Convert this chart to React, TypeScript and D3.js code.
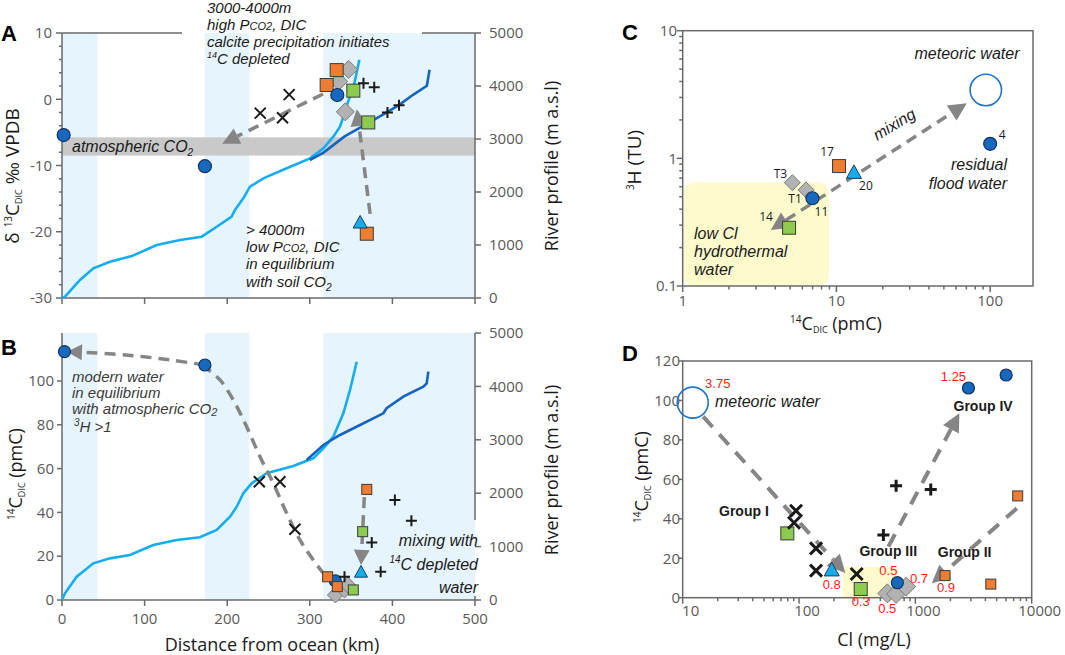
import React from 'react';
import * as d3 from 'd3';

type P = [number, number];
type Kind = 'circle' | 'orange' | 'green' | 'diamond' | 'triangle' | 'cross' | 'plus';

// river long profiles: distance from ocean (km), elevation (m a.s.l.)
const profileLightA: P[] = [[0, 0], [3.6, 25], [21.8, 340], [37.9, 560], [58.1, 685], [84.4, 790], [114.6, 1000], [142.9, 1095], [169.1, 1157], [187.3, 1345], [205.4, 1535], [209.4, 1660], [219.5, 1880], [227.6, 2100], [243.7, 2258], [272, 2447], [300.2, 2635], [316.4, 2825], [328.5, 3043], [336.6, 3232], [340.6, 3420], [345.8, 3676], [354, 4054], [360, 4495]];
const profileDarkA: P[] = [[300, 2604], [316.7, 2743], [341.7, 3045], [366.7, 3266], [391.7, 3487], [408.3, 3644], [425, 3834], [441.7, 4004], [445, 4307]];
const profileLightB: P[] = [[0, 0], [3.6, 125], [17.8, 436], [37.9, 687], [58.1, 780], [82.3, 843], [110.5, 1030], [138.8, 1124], [167, 1174], [187.3, 1311], [203.4, 1560], [211.5, 1747], [219.5, 1998], [229.6, 2185], [247.8, 2373], [280, 2509], [304.2, 2653], [316.4, 2841], [328.5, 3058], [340.6, 3496], [348.7, 3933], [356.8, 4463]];
const profileDarkB: P[] = [[296.2, 2622], [316.4, 2903], [336.6, 3090], [360.8, 3277], [389, 3496], [393, 3590], [413.2, 3808], [437.4, 3995], [441.5, 4058], [443.5, 4276]];

// shaded reaches (km) and atmospheric CO2 band (permil)
const reaches: P[] = [[0, 42.8], [173, 226.4], [316.4, 500]];
const atmBand: P = [-8.5, -5.75];

// panel A: d13C DIC vs distance
const aDiamond: P[] = [[347, 4.5], [335, 2.7], [343, -1.9]];
const aOrange: P[] = [[332.5, 4.4], [320.4, 2.15], [369, -20.3]];
const aCircle: P[] = [[2, -5.4], [173, -10.1], [333.3, 0.64]];
const aGreen: P[] = [[352.7, 1.3], [370.8, -3.5]];
const aTriangle: P[] = [[361, -18.7]];
const aCross: P[] = [[275, 0.7], [240, -2.1], [267, -2.8]];
const aPlus: P[] = [[365, 2.4], [378, 1.8], [394, -2.0], [408, -0.9]];
const aArrow1: P[] = [[316, 0.8], [194, -6.7]];
const aArrow2: P[] = [[373, -17.3], [357, -1.5]];

// panel B: 14C DIC vs distance
const bDiamond: P[] = [[331, 2.3], [342, 4.6], [346, 6.8]];
const bCircle: P[] = [[3, 113.4], [173, 107.3], [331, 8.7]];
const bOrange: P[] = [[369, 50.5], [321.6, 10.6], [333.3, 6.1]];
const bGreen: P[] = [[364, 31.2], [352.7, 4.6]];
const bTriangle: P[] = [[362, 12.5]];
const bCross: P[] = [[238.9, 54], [263.9, 54], [282, 32.3]];
const bPlus: P[] = [[403, 45.7], [423, 36.2], [375, 26.2], [385.8, 12.9], [342, 10.6]];
const bArrow1: P[] = [[173, 107.3], [131, 109.6], [80, 111.8], [30, 113], [6, 113.4]];
const bArrow2: P[] = [[169.5, 107.3], [191.3, 100.5], [207.4, 91.3], [223.6, 79.1], [239.7, 65.4], [255.8, 53.3], [272, 39.6], [288.1, 27.4], [304.2, 18.3], [316.4, 12.2]];
const bArrow3: P[] = [[366, 47], [362, 16]];

// panel C: 3H vs 14C DIC
const cMeteoric: P = [93.7, 3.43];
const cDiamond: P[] = [[5.17, 0.645], [6.35, 0.566]];
const cCircle: P[] = [[100, 1.3], [6.98, 0.487]];
const cOrange: P[] = [[10.4, 0.87]];
const cTriangle: P[] = [[13.0, 0.766]];
const cGreen: P[] = [[4.92, 0.286]];
const cLabels: { t: string; p: P; dx: number; dy: number }[] = [
  { t: 'T3', p: [5.17, 0.645], dx: -12, dy: -9 },
  { t: 'T1', p: [6.35, 0.566], dx: -11, dy: 9 },
  { t: '11', p: [6.98, 0.487], dx: 9, dy: 14 },
  { t: '14', p: [4.92, 0.286], dx: -23, dy: -11 },
  { t: '17', p: [10.4, 0.87], dx: -12, dy: -14 },
  { t: '20', p: [13.0, 0.766], dx: 12, dy: 13 },
  { t: '4', p: [100, 1.3], dx: 12, dy: -9 },
];
const cLowCl: [P, P] = [[1, 0.1], [8.8, 0.65]];
const cArrow: P[] = [[3.74, 0.275], [70.5, 2.7]];

// panel D: 14C DIC vs Cl
const dMeteoric: P = [12.2, 98.9];
const dDiamond: P[] = [[574, 2.2], [682, 1.9], [832, 5.6]];
const dCircle: P[] = [[2860, 106.3], [6030, 112.9], [700, 7.6]];
const dOrange: P[] = [[7580, 51.6], [1800, 11.2], [4450, 6.9]];
const dGreen: P[] = [[79.3, 32.6], [339, 4.4]];
const dTriangle: P[] = [[191, 13.7]];
const dCross: P[] = [[94.2, 44.1], [90.6, 38], [140, 25], [140, 13.7], [313, 12]];
const dPlus: P[] = [[683, 56.8], [1356, 54.9], [531, 31.8]];
const dTritium: { t: string; p: P; dx: number; dy: number }[] = [
  { t: '3.75', p: [12.2, 98.9], dx: 25, dy: -19 },
  { t: '1.25', p: [2860, 106.3], dx: -15, dy: -12 },
  { t: '0.5', p: [700, 7.6], dx: -9, dy: -12 },
  { t: '0.7', p: [832, 5.6], dx: 13, dy: -8 },
  { t: '0.8', p: [191, 13.7], dx: 0, dy: 14 },
  { t: '0.3', p: [339, 4.4], dx: 0, dy: 12 },
  { t: '0.5', p: [574, 2.2], dx: 0, dy: 15 },
  { t: '0.9', p: [1800, 11.2], dx: 1, dy: 12 },
];
const dGroups: { t: string; p: P }[] = [
  { t: 'Group I', p: [33.6, 44] },
  { t: 'Group III', p: [585, 23.8] },
  { t: 'Group II', p: [2650, 23] },
  { t: 'Group IV', p: [3820, 97] },
];
const dLowCl: [P, P] = [[239, 0], [709, 15.6]];
const dArrow1: P[] = [[15, 91.8], [250, 12.5]];
const dArrow2: P[] = [[586, 25.9], [2390, 93.5]];
const dArrow3: P[] = [[7450, 45.3], [1384, 7.3]];

// tick labels
const distTicks = [0, 100, 200, 300, 400, 500];
const elevTicks = [0, 1000, 2000, 3000, 4000, 5000];
const d13Ticks = [-30, -20, -10, 0, 10];
const c14Ticks = [0, 20, 40, 60, 80, 100];
const cXTicks = [1, 10, 100];
const cYTicks = [0.1, 1, 10];
const dXTicks = [10, 100, 1000, 10000];
const dYTicks = [0, 20, 40, 60, 80, 100, 120];

const SANS = "'Open Sans', 'Noto Sans', sans-serif";
const ARIAL = "'Liberation Sans', Arial, sans-serif";
const GREY = '#595959';
const AXIS = '#6a6a6a';
const BAND = '#e6f4fd';
const DASH = '#858585';
const YELLOW = '#fdfbcc';

const xA = d3.scaleLinear().domain([0, 500]).range([62, 475]);
const yA = d3.scaleLinear().domain([-30, 10]).range([298, 33]);
const zA = d3.scaleLinear().domain([0, 5000]).range([298, 33]);
const yB = d3.scaleLinear().domain([0, 120]).range([600, 337.2]);
const zB = d3.scaleLinear().domain([0, 5000]).range([600, 333]);
const xC = d3.scaleLog().domain([1, 190]).range([682.7, 1033]);
const yC = d3.scaleLog().domain([0.1, 10]).range([286, 30.7]);
const xD = d3.scaleLog().domain([10, 10000]).range([682.7, 1031.7]);
const yD = d3.scaleLinear().domain([0, 120]).range([597.7, 361]);

const logMinor = (lo: number, hi: number) => {
  const out: number[] = [];
  for (let d = lo; d < hi; d *= 10) for (let m = 2; m <= 9; m++) if (d * m <= hi) out.push(d * m);
  return out;
};

function Mark({ k, x, y, s }: { k: Kind; x: number; y: number; s: number }) {
  const h = s / 2;
  switch (k) {
    case 'circle':
      return <circle cx={x} cy={y} r={h} fill="#1769c0" stroke="#16325c" strokeWidth={1.2} />;
    case 'orange':
      return <rect x={x - h} y={y - h} width={s} height={s} fill="#ee7d31" stroke="#3b3b3b" strokeWidth={1} />;
    case 'green':
      return <rect x={x - h} y={y - h} width={s} height={s} fill="#8dcb4f" stroke="#3b3b3b" strokeWidth={1} />;
    case 'diamond':
      return <path d={`M${x},${y - h}L${x + h},${y}L${x},${y + h}L${x - h},${y}Z`} fill="#b2b2b2" stroke="#7b7b7b" strokeWidth={1} />;
    case 'triangle':
      return <path d={`M${x},${y - s * 0.55}L${x + h},${y + s * 0.35}L${x - h},${y + s * 0.35}Z`} fill="#16aeea" stroke="#1d3a63" strokeWidth={1} />;
    case 'cross':
      return <path d={`M${x - h},${y - h}L${x + h},${y + h}M${x - h},${y + h}L${x + h},${y - h}`} stroke="#1a1a1a" strokeWidth={s > 11 ? 3 : 2} />;
    case 'plus':
      return <path d={`M${x - h},${y}L${x + h},${y}M${x},${y - h}L${x},${y + h}`} stroke="#1a1a1a" strokeWidth={s > 11 ? 3 : 2} />;
  }
  return null;
}

function Series({ pts, k, s, sx, sy }: { pts: P[]; k: Kind; s: number; sx: (v: number) => number; sy: (v: number) => number }) {
  return <g>{pts.map((p, i) => <Mark key={i} k={k} x={sx(p[0])} y={sy(p[1])} s={s} />)}</g>;
}

function head(tip: P, from: P, len: number, hw: number) {
  const dx = tip[0] - from[0], dy = tip[1] - from[1];
  const n = Math.hypot(dx, dy) || 1;
  const ux = dx / n, uy = dy / n;
  const bx = tip[0] - ux * len, by = tip[1] - uy * len;
  return { base: [bx, by] as P, pts: `${tip[0]},${tip[1]} ${bx - uy * hw},${by + ux * hw} ${bx + uy * hw},${by - ux * hw}` };
}

function DashArrow({ pts, start = false, end = true, len = 17, hw = 8.5, w = 3.5, dash = '11 7', curved = false }:
  { pts: P[]; start?: boolean; end?: boolean; len?: number; hw?: number; w?: number; dash?: string; curved?: boolean }) {
  const p = pts.map(q => [q[0], q[1]] as P);
  const heads: string[] = [];
  if (end) {
    const hd = head(p[p.length - 1], p[p.length - 2], len, hw);
    heads.push(hd.pts);
    p[p.length - 1] = hd.base;
  }
  if (start) {
    const hd = head(p[0], p[1], len, hw);
    heads.push(hd.pts);
    p[0] = hd.base;
  }
  const gen = d3.line<P>().x(d => d[0]).y(d => d[1]).curve(curved ? d3.curveCatmullRom : d3.curveLinear);
  return (
    <g>
      <path d={gen(p) || ''} fill="none" stroke={DASH} strokeWidth={w} strokeDasharray={dash} />
      {heads.map((h, i) => <polygon key={i} points={h} fill={DASH} />)}
    </g>
  );
}

// trailing subscript (only used at the end of a line)
const sub = (t: string, size = 10, down = 4) => <tspan fontSize={size} dy={down}>{t}</tspan>;

export default function App() {
  const px = (sx: (v: number) => number, sy: (v: number) => number) => (pts: P[]) => pts.map(q => [sx(q[0]), sy(q[1])] as P);
  const pA = px(xA, yA), pB = px(xA, yB), pC = px(xC, yC), pD = px(xD, yD);
  const lineA = d3.line<P>().x(d => xA(d[0])).y(d => zA(d[1]));
  const lineB = d3.line<P>().x(d => xA(d[0])).y(d => zB(d[1]));
  const tick = { fontFamily: SANS, fontSize: 15, fill: GREY } as const;
  const ital = { fontFamily: ARIAL, fontStyle: 'italic' as const };

  return (
    <svg width={1065} height={655} style={{ position: 'absolute', left: 0, top: 0, background: '#fff' }}>
      {/* ---------------- panel A ---------------- */}
      {reaches.map(([a, b], i) => (
        <rect key={'ra' + i} x={xA(a)} y={yA(10)} width={xA(b) - xA(a)} height={yA(-30) - yA(10)} fill={BAND} />
      ))}
      <rect x={xA(0)} y={yA(atmBand[1])} width={xA(500) - xA(0)} height={yA(atmBand[0]) - yA(atmBand[1])} fill="#c9c9c9" />
      <g stroke={AXIS} strokeWidth={1.5} fill="none">
        <line x1={62} x2={62} y1={yA(10)} y2={yA(-30)} />
        <line x1={475} x2={475} y1={yA(10)} y2={yA(-30)} />
        <line x1={62} x2={475} y1={yA(-30)} y2={yA(-30)} />
        <line x1={62} x2={182} y1={yA(10)} y2={yA(10)} />
        <line x1={422} x2={475} y1={yA(10)} y2={yA(10)} />
        {d3.range(-30, 11, 2).map(v => <line key={'am' + v} x1={62} x2={v % 10 === 0 ? 56 : 59} y1={yA(v)} y2={yA(v)} />)}
        {elevTicks.map(v => <line key={'ae' + v} x1={475} x2={481} y1={zA(v)} y2={zA(v)} />)}
        {distTicks.map(v => <line key={'ad' + v} x1={xA(v)} x2={xA(v)} y1={298} y2={304} />)}
      </g>
      {d13Ticks.map(v => <text key={'al' + v} x={52} y={yA(v)} dy="0.35em" textAnchor="end" {...tick}>{v}</text>)}
      {elevTicks.map(v => <text key={'ar' + v} x={489} y={zA(v)} dy="0.35em" {...tick}>{v}</text>)}
      <path d={lineA(profileLightA) || ''} fill="none" stroke="#14aef0" strokeWidth={2.6} />
      <path d={lineA(profileDarkA) || ''} fill="none" stroke="#1565c0" strokeWidth={2.6} />
      <DashArrow pts={pA(aArrow1)} />
      <DashArrow pts={pA(aArrow2)} />
      <Series pts={aDiamond} k="diamond" s={18} sx={xA} sy={yA} />
      <Series pts={aOrange} k="orange" s={13} sx={xA} sy={yA} />
      <Series pts={aCircle} k="circle" s={13} sx={xA} sy={yA} />
      <Series pts={aGreen} k="green" s={13} sx={xA} sy={yA} />
      <Series pts={aTriangle} k="triangle" s={14} sx={xA} sy={yA} />
      <Series pts={aCross} k="cross" s={11} sx={xA} sy={yA} />
      <Series pts={aPlus} k="plus" s={11} sx={xA} sy={yA} />
      <g {...ital} fontSize={15} fill="#1a1a1a">
        <text x={207} y={13}>3000-4000m</text>
        <text x={207} y={30}>high P<tspan fontSize={11}>CO2</tspan>, DIC</text>
        <text x={207} y={47}>calcite precipitation initiates</text>
        <text x={207} y={64}><tspan fontSize={9} dy={-6}>14</tspan><tspan dy={6}>C depleted</tspan></text>
        <text x={72} y={152} fontSize={16}>atmospheric CO{sub('2', 10, 4)}</text>
        <text x={246} y={235}>&gt; 4000m</text>
        <text x={246} y={252}>low P<tspan fontSize={11}>CO2</tspan>, DIC</text>
        <text x={246} y={269}>in equilibrium</text>
        <text x={246} y={287}>with soil CO{sub('2', 10, 4)}</text>
      </g>
      <text x={1} y={41} fontFamily={ARIAL} fontWeight="bold" fontSize={22}>A</text>
      <text transform="translate(19,176) rotate(-90)" textAnchor="middle" fontFamily={SANS} fontSize={19} fill="#1a1a1a">
        δ <tspan fontSize={10} dy={-7}>13</tspan><tspan dy={7}>C</tspan><tspan fontSize={9} dy={3}>DIC</tspan><tspan dy={-3}> ‰ VPDB</tspan>
      </text>
      <text transform="translate(558,166) rotate(-90)" textAnchor="middle" fontFamily={SANS} fontSize={18} fill="#1a1a1a">River profile (m a.s.l)</text>

      {/* ---------------- panel B ---------------- */}
      {reaches.map(([a, b], i) => (
        <rect key={'rb' + i} x={xA(a)} y={333} width={xA(b) - xA(a)} height={267} fill={BAND} />
      ))}
      <g stroke={AXIS} strokeWidth={1.5} fill="none">
        <line x1={62} x2={62} y1={333} y2={600} />
        <line x1={475} x2={475} y1={333} y2={520} />
        <line x1={475} x2={475} y1={596} y2={600} />
        <line x1={62} x2={475} y1={600} y2={600} />
        {c14Ticks.map(v => <line key={'bm' + v} x1={62} x2={57} y1={yB(v)} y2={yB(v)} />)}
        {elevTicks.map(v => <line key={'be' + v} x1={475} x2={481} y1={zB(v)} y2={zB(v)} />)}
        {distTicks.map(v => <line key={'bd' + v} x1={xA(v)} x2={xA(v)} y1={600} y2={606} />)}
      </g>
      {c14Ticks.map(v => <text key={'bl' + v} x={54} y={yB(v)} dy="0.35em" textAnchor="end" {...tick}>{v}</text>)}
      {elevTicks.map(v => <text key={'br' + v} x={489} y={zB(v)} dy="0.35em" {...tick}>{v}</text>)}
      {distTicks.map(v => <text key={'bx' + v} x={xA(v)} y={624} textAnchor="middle" {...tick}>{v}</text>)}
      <path d={lineB(profileLightB) || ''} fill="none" stroke="#14aef0" strokeWidth={2.6} />
      <path d={lineB(profileDarkB) || ''} fill="none" stroke="#1565c0" strokeWidth={2.6} />
      <DashArrow pts={pB(bArrow1)} curved len={15} hw={8} />
      <DashArrow pts={pB(bArrow2)} curved end={false} />
      <DashArrow pts={pB(bArrow3)} len={15} hw={8} />
      <Series pts={bDiamond} k="diamond" s={16} sx={xA} sy={yB} />
      <Series pts={bCircle} k="circle" s={12} sx={xA} sy={yB} />
      <Series pts={bOrange} k="orange" s={10} sx={xA} sy={yB} />
      <Series pts={bGreen} k="green" s={10} sx={xA} sy={yB} />
      <Series pts={bTriangle} k="triangle" s={13} sx={xA} sy={yB} />
      <Series pts={bCross} k="cross" s={11} sx={xA} sy={yB} />
      <Series pts={bPlus} k="plus" s={11} sx={xA} sy={yB} />
      <g {...ital} fontSize={15} fill="#3a3a3a">
        <text x={72} y={382}>modern water</text>
        <text x={72} y={398}>in equilibrium</text>
        <text x={72} y={414}>with atmospheric CO{sub('2', 11, 2)}</text>
        <text x={74} y={432}><tspan fontSize={10} dy={-6}>3</tspan><tspan dy={6}>H &gt;1</tspan></text>
      </g>
      <g {...ital} fontSize={16} fill="#1a1a1a" textAnchor="end">
        <text x={478} y={546}>mixing with</text>
        <text x={478} y={570}><tspan fontSize={10} dy={-7}>14</tspan><tspan dy={7}>C depleted</tspan></text>
        <text x={478} y={593}>water</text>
      </g>
      <text x={1} y={355} fontFamily={ARIAL} fontWeight="bold" fontSize={22}>B</text>
      <text transform="translate(22,474) rotate(-90)" textAnchor="middle" fontFamily={SANS} fontSize={18} fill="#1a1a1a">
        <tspan fontSize={10} dy={-7}>14</tspan><tspan dy={7}>C</tspan><tspan fontSize={9} dy={3}>DIC</tspan><tspan dy={-3}> (pmC)</tspan>
      </text>
      <text transform="translate(558,470) rotate(-90)" textAnchor="middle" fontFamily={SANS} fontSize={18} fill="#1a1a1a">River profile (m a.s.l)</text>
      <text x={272} y={651} textAnchor="middle" fontFamily={SANS} fontSize={18} fill="#1a1a1a">Distance from ocean (km)</text>

      {/* ---------------- panel C ---------------- */}
      <rect x={xC(cLowCl[0][0]) + 1} y={yC(cLowCl[1][1])} width={xC(cLowCl[1][0]) - xC(cLowCl[0][0])} height={yC(cLowCl[0][1]) - yC(cLowCl[1][1])} rx={10} fill={YELLOW} />
      <g stroke={AXIS} strokeWidth={1.5} fill="none">
        <rect x={xC(1)} y={yC(10)} width={xC(190) - xC(1)} height={yC(0.1) - yC(10)} />
        {cYTicks.map(v => <line key={'cy' + v} x1={xC(1)} x2={xC(1) - 6} y1={yC(v)} y2={yC(v)} />)}
        {logMinor(0.1, 10).map(v => <line key={'cym' + v} x1={xC(1)} x2={xC(1) - 3.5} y1={yC(v)} y2={yC(v)} />)}
        {cXTicks.map(v => <line key={'cx' + v} x1={xC(v)} x2={xC(v)} y1={yC(0.1)} y2={yC(0.1) + 6} />)}
        {logMinor(1, 190).map(v => <line key={'cxm' + v} x1={xC(v)} x2={xC(v)} y1={yC(0.1)} y2={yC(0.1) + 3.5} />)}
      </g>
      {cYTicks.map(v => <text key={'cyl' + v} x={677} y={yC(v)} dy="0.35em" textAnchor="end" {...tick}>{v}</text>)}
      {cXTicks.map(v => <text key={'cxl' + v} x={xC(v)} y={306} textAnchor="middle" {...tick}>{v}</text>)}
      <DashArrow pts={pC(cArrow)} start end len={18} hw={9} />
      <circle cx={xC(cMeteoric[0])} cy={yC(cMeteoric[1])} r={15.7} fill="none" stroke="#1f74c6" strokeWidth={1.6} />
      <Series pts={cDiamond} k="diamond" s={16} sx={xC} sy={yC} />
      <Series pts={cCircle} k="circle" s={13} sx={xC} sy={yC} />
      <Series pts={cOrange} k="orange" s={13} sx={xC} sy={yC} />
      <Series pts={cTriangle} k="triangle" s={15} sx={xC} sy={yC} />
      <Series pts={cGreen} k="green" s={13} sx={xC} sy={yC} />
      {cLabels.map((l, i) => (
        <text key={'cl' + i} x={xC(l.p[0]) + l.dx} y={yC(l.p[1]) + l.dy} dy="0.35em" textAnchor="middle" fontFamily={SANS} fontSize={12} fill="#1a1a1a">{l.t}</text>
      ))}
      <g {...ital} fontSize={16} fill="#1a1a1a">
        <text x={967} y={59} textAnchor="middle">meteoric water</text>
        <text transform="translate(897,129) rotate(-31)" textAnchor="middle">mixing</text>
        <text x={1007} y={170} textAnchor="end">residual</text>
        <text x={1007} y={189} textAnchor="end">flood water</text>
        <text x={694} y={239}>low Cl</text>
        <text x={694} y={257}>hydrothermal</text>
        <text x={694} y={275}>water</text>
      </g>
      <text x={622} y={40} fontFamily={ARIAL} fontWeight="bold" fontSize={22}>C</text>
      <text transform="translate(641,160) rotate(-90)" textAnchor="middle" fontFamily={SANS} fontSize={19} fill="#1a1a1a">
        <tspan fontSize={10} dy={-7}>3</tspan><tspan dy={7}>H (TU)</tspan>
      </text>
      <text x={836} y={330} textAnchor="middle" fontFamily={SANS} fontSize={18} fill="#1a1a1a">
        <tspan fontSize={10} dy={-7}>14</tspan><tspan dy={7}>C</tspan><tspan fontSize={9} dy={3}>DIC</tspan><tspan dy={-3}> (pmC)</tspan>
      </text>

      {/* ---------------- panel D ---------------- */}
      <rect x={xD(dLowCl[0][0])} y={yD(dLowCl[1][1])} width={xD(dLowCl[1][0]) - xD(dLowCl[0][0])} height={yD(0) - yD(dLowCl[1][1])} fill={YELLOW} />
      <g stroke={AXIS} strokeWidth={1.5} fill="none">
        <rect x={xD(10)} y={yD(120)} width={xD(10000) - xD(10)} height={yD(0) - yD(120)} />
        {dYTicks.map(v => <line key={'dy' + v} x1={xD(10)} x2={xD(10) - 4} y1={yD(v)} y2={yD(v)} />)}
        {dXTicks.map(v => <line key={'dx' + v} x1={xD(v)} x2={xD(v)} y1={yD(0)} y2={yD(0) + 6} />)}
        {logMinor(10, 10000).map(v => <line key={'dxm' + v} x1={xD(v)} x2={xD(v)} y1={yD(0)} y2={yD(0) + 3.5} />)}
      </g>
      {dYTicks.map(v => <text key={'dyl' + v} x={680} y={yD(v)} dy="0.35em" textAnchor="end" {...tick}>{v}</text>)}
      {dXTicks.map(v => <text key={'dxl' + v} x={xD(v) + 8} y={616} textAnchor="middle" {...tick}>{v}</text>)}
      <DashArrow pts={pD(dArrow1)} w={4} dash="14 10" len={18} hw={9} />
      <DashArrow pts={pD(dArrow2)} w={4} dash="14 10" len={18} hw={9} />
      <DashArrow pts={pD(dArrow3)} w={4} dash="14 10" len={18} hw={9} />
      <circle cx={xD(dMeteoric[0])} cy={yD(dMeteoric[1])} r={15.5} fill="none" stroke="#1f74c6" strokeWidth={1.6} />
      <Series pts={dDiamond} k="diamond" s={19} sx={xD} sy={yD} />
      <Series pts={dCircle} k="circle" s={12} sx={xD} sy={yD} />
      <Series pts={dOrange} k="orange" s={10} sx={xD} sy={yD} />
      <Series pts={dGreen} k="green" s={13} sx={xD} sy={yD} />
      <Series pts={dTriangle} k="triangle" s={15} sx={xD} sy={yD} />
      <Series pts={dCross} k="cross" s={12} sx={xD} sy={yD} />
      <Series pts={dPlus} k="plus" s={12} sx={xD} sy={yD} />
      {dTritium.map((l, i) => (
        <text key={'dt' + i} x={xD(l.p[0]) + l.dx} y={yD(l.p[1]) + l.dy} dy="0.35em" textAnchor="middle" fontFamily={ARIAL} fontSize={13} fill="#ff1a1a">{l.t}</text>
      ))}
      {dGroups.map((g, i) => (
        <text key={'dg' + i} x={xD(g.p[0])} y={yD(g.p[1])} dy="0.35em" textAnchor="middle" fontFamily={ARIAL} fontWeight="bold" fontSize={14} fill="#1a1a1a">{g.t}</text>
      ))}
      <text x={715} y={407} {...ital} fontSize={16} fill="#1a1a1a">meteoric water</text>
      <text x={622} y={361} fontFamily={ARIAL} fontWeight="bold" fontSize={22}>D</text>
      <text transform="translate(648,477) rotate(-90)" textAnchor="middle" fontFamily={SANS} fontSize={18} fill="#1a1a1a">
        <tspan fontSize={10} dy={-7}>14</tspan><tspan dy={7}>C</tspan><tspan fontSize={9} dy={3}>DIC</tspan><tspan dy={-3}> (pmC)</tspan>
      </text>
      <text x={874} y={646} textAnchor="middle" fontFamily={SANS} fontSize={18} fill="#1a1a1a">Cl (mg/L)</text>
    </svg>
  );
}
